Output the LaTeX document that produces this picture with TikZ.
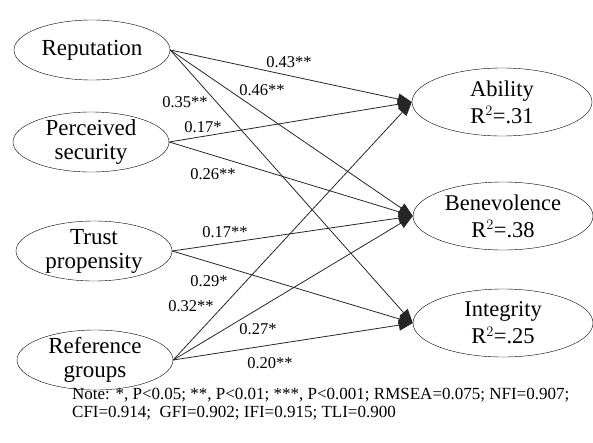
\documentclass[tikz,border=0pt]{standalone}
\usepackage{fontspec}
\setmainfont{Liberation Serif}
\usetikzlibrary{shapes.geometric,arrows.meta}
\tikzset{
  cause/.style={draw, ellipse, align=center, minimum width=156pt, minimum height=60pt,
    inner xsep=0pt, inner ysep=-5pt, font=\fontsize{23}{24}\selectfont},
  effect/.style={draw, ellipse, align=center, minimum width=180pt, minimum height=68pt,
    inner xsep=0pt, inner ysep=-6pt, font=\fontsize{22.5}{27}\selectfont},
  coef/.style={inner sep=0pt, font=\fontsize{16.5}{18}\selectfont},
  path/.style={->, draw=black!85, line width=0.8pt}
}
\begin{document}
\begin{tikzpicture}[x=1pt, y=-1pt, >={Triangle[length=14pt,width=11pt]}]
\useasboundingbox (0,0) rectangle (593,442);
\node[cause] (rep) at (92,50) {Reputation};
\node[cause] (sec) at (91,142) {Perceived\\security};
\node[cause] (prop) at (94,251) {Trust\\propensity};
\node[cause] (ref) at (95,360) {Reference\\groups};
\node[effect] (abil) at (502,102) {Ability\\R$^2$=.31};
\node[effect] (bene) at (503,216) {Benevolence\\R$^2$=.38};
\node[effect] (integ) at (503,323) {Integrity\\R$^2$=.25};
\draw[path] (rep.east) -- (abil.west);
\draw[path] (rep.east) -- (bene.west);
\draw[path] (rep.east) -- (integ.west);
\draw[path] (sec.east) -- (abil.west);
\draw[path] (sec.east) -- (bene.west);
\draw[path] (prop.east) -- (bene.west);
\draw[path] (prop.east) -- (integ.west);
\draw[path] (ref.east) -- (abil.west);
\draw[path] (ref.east) -- (bene.west);
\draw[path] (ref.east) -- (integ.west);
\node[coef] (c-rep-abil) at (289,62) {0.43**};
\node[coef] (c-rep-bene) at (262,90) {0.46**};
\node[coef] (c-rep-integ) at (185,102) {0.35**};
\node[coef] (c-sec-abil) at (203,127) {0.17*};
\node[coef] (c-sec-bene) at (213,174) {0.26**};
\node[coef] (c-prop-bene) at (225,232) {0.17**};
\node[coef] (c-prop-integ) at (209,281) {0.29*};
\node[coef] (c-ref-abil) at (191,306) {0.32**};
\node[coef] (c-ref-bene) at (258,329) {0.27*};
\node[coef] (c-ref-integ) at (270,363) {0.20**};
\node[anchor=base west, align=left, inner sep=0pt, font=\fontsize{17}{18}\selectfont] (note) at (72,417)
  {Note: *, P\textless0.05; **, P\textless0.01; ***, P\textless0.001; RMSEA=0.075; NFI=0.907;\\
   CFI=0.914;\ \ GFI=0.902; IFI=0.915; TLI=0.900};
\end{tikzpicture}
\end{document}
